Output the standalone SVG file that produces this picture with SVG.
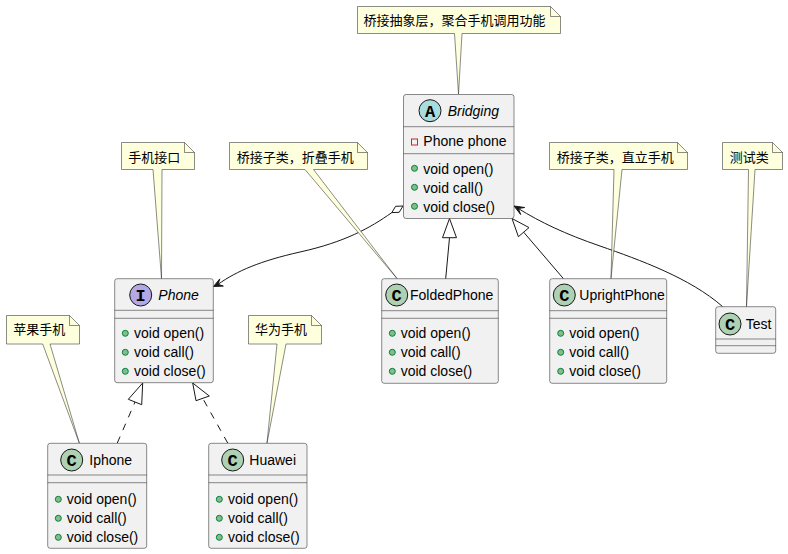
<svg xmlns="http://www.w3.org/2000/svg" width="788" height="554" viewBox="0 0 788 554">
<style>
.box{fill:#F1F1F1;stroke:#181818;stroke-width:0.5}
.sep{stroke:#181818;stroke-width:0.5}
.note{fill:#FEFFDD;stroke:#181818;stroke-width:0.5}
.fold{fill:none;stroke:#181818;stroke-width:0.5}
.t{font-family:"Liberation Sans",Arial,sans-serif;font-size:14px;fill:#000}
.ti{font-family:"Liberation Sans",Arial,sans-serif;font-size:14px;font-style:italic;fill:#000}
.n{font-family:"Noto Sans CJK SC","Liberation Sans",sans-serif;font-size:13px;fill:#000}
.sym{font-family:"Liberation Mono","DejaVu Sans Mono",monospace;font-size:17px;font-weight:bold;fill:#000;text-anchor:middle}
.ca{fill:#A9DCDF;stroke:#181818;stroke-width:1}
.ci{fill:#B4A7E5;stroke:#181818;stroke-width:1}
.cc{fill:#ADD1B2;stroke:#181818;stroke-width:1}
.pub{fill:#84BE84;stroke:#038048;stroke-width:1}
.priv{fill:none;stroke:#C82930;stroke-width:1}
.e{fill:none;stroke:#181818;stroke-width:1}
.d{fill:none;stroke:#181818;stroke-width:1;stroke-dasharray:7,7}
.h{fill:#181818;stroke:#181818;stroke-width:1}
.o{fill:#FFFFFF;stroke:#181818;stroke-width:1}
</style>

<g id="connectors">
  <!-- Bridging o-> Phone -->
  <path class="e" d="M391.8,212.6 C370,228 345,242 300,252 C260,261 237,271 218,284.3"/>
  <polygon class="o" points="403,206 395.6,206.3 391.8,212.6 399.2,212.3"/>
  <polygon class="h" points="213.5,286.5 219.8,278.9 218,284.3 223.3,286.1"/>
  <!-- FoldedPhone -|> Bridging -->
  <line class="e" x1="445.7" y1="278.7" x2="449.5" y2="237.7"/>
  <polygon class="o" points="449.5,218.5 442.5,237.7 456.5,237.7"/>
  <!-- UprightPhone -|> Bridging -->
  <line class="e" x1="563.3" y1="278.5" x2="523.7" y2="232.2"/>
  <polygon class="o" points="512,218.5 518.4,236.7 529,227.6"/>
  <!-- Test -> Bridging -->
  <path class="e" d="M722.5,306.5 C690,278 640,260 600,246 C565,234 540,222 518.3,208.5"/>
  <polygon class="h" points="514,206 520.7,214.5 518.3,208.5 524.7,207.5"/>
  <!-- Iphone ..|> Phone -->
  <line class="d" x1="117.3" y1="443" x2="135" y2="402"/>
  <polygon class="o" points="142.7,383 128.3,399.3 141.7,404.7"/>
  <!-- Huawei ..|> Phone -->
  <line class="d" x1="227.7" y1="443" x2="202.7" y2="398.3"/>
  <polygon class="o" points="192.7,383 196,400.7 209.3,396"/>
</g>

<g id="note-bridging">
  <path class="note" d="M357.5,6.5 L550.5,6.5 L560.5,16.5 L560.5,33.5 L462,33.5 L458.5,94 L454.5,33.5 L357.5,33.5 Z"/>
  <path class="fold" d="M550.5,6.5 L550.5,16.5 L560.5,16.5"/>
  <text class="n" x="363.5" y="25">桥接抽象层，聚合手机调用功能</text>
</g>

<g id="note-phone">
  <path class="note" d="M121.5,142.5 L184.5,142.5 L194.5,152.5 L194.5,169.5 L162,169.5 L161.5,278.5 L153,169.5 L121.5,169.5 Z"/>
  <path class="fold" d="M184.5,142.5 L184.5,152.5 L194.5,152.5"/>
  <text class="n" x="128.3" y="161.5">手机接口</text>
</g>

<g id="note-folded">
  <path class="note" d="M229.5,142.5 L357.5,142.5 L367.5,152.5 L367.5,169.5 L313.5,169.5 L397,278.5 L305,169.5 L229.5,169.5 Z"/>
  <path class="fold" d="M357.5,142.5 L357.5,152.5 L367.5,152.5"/>
  <text class="n" x="236.7" y="161.5">桥接子类，折叠手机</text>
</g>

<g id="note-upright">
  <path class="note" d="M549.5,142.5 L677.5,142.5 L687.5,152.5 L687.5,169.5 L622,169.5 L611,278.5 L614,169.5 L549.5,169.5 Z"/>
  <path class="fold" d="M677.5,142.5 L677.5,152.5 L687.5,152.5"/>
  <text class="n" x="556.7" y="161.5">桥接子类，直立手机</text>
</g>

<g id="note-test">
  <path class="note" d="M722.5,142.5 L772.5,142.5 L782.5,152.5 L782.5,169.5 L755,169.5 L746.5,306.5 L748.5,169.5 L722.5,169.5 Z"/>
  <path class="fold" d="M772.5,142.5 L772.5,152.5 L782.5,152.5"/>
  <text class="n" x="729.8" y="161.5">测试类</text>
</g>

<g id="note-iphone">
  <path class="note" d="M6.5,315.5 L69.5,315.5 L79.5,325.5 L79.5,344 L50,344 L79.3,443 L42.7,344 L6.5,344 Z"/>
  <path class="fold" d="M69.5,315.5 L69.5,325.5 L79.5,325.5"/>
  <text class="n" x="13.3" y="334">苹果手机</text>
</g>

<g id="note-huawei">
  <path class="note" d="M248.5,315.5 L311.5,315.5 L321.5,325.5 L321.5,344 L286,344 L267,443 L277,344 L248.5,344 Z"/>
  <path class="fold" d="M311.5,315.5 L311.5,325.5 L321.5,325.5"/>
  <text class="n" x="255" y="334">华为手机</text>
</g>

<g id="Bridging">
  <rect class="box" x="403.5" y="94.5" width="110.5" height="124" rx="2.5"/>
  <line class="sep" x1="403.5" y1="126.7" x2="514" y2="126.7"/>
  <line class="sep" x1="403.5" y1="153.7" x2="514" y2="153.7"/>
  <circle class="ca" cx="430" cy="110.7" r="11"/>
  <text class="sym" x="430" y="116.5">A</text>
  <text class="ti" x="447.7" y="115.5">Bridging</text>
  <rect class="priv" x="411.5" y="139" width="6" height="6"/>
  <text class="t" x="423.3" y="146">Phone phone</text>
  <circle class="pub" cx="414.5" cy="168.3" r="3"/>
  <text class="t" x="423.3" y="173.5">void open()</text>
  <circle class="pub" cx="414.5" cy="187.3" r="3"/>
  <text class="t" x="423.3" y="192.5">void call()</text>
  <circle class="pub" cx="414.5" cy="206.3" r="3"/>
  <text class="t" x="423.3" y="211.5">void close()</text>
</g>

<g id="Phone">
  <rect class="box" x="114.7" y="278.7" width="98.6" height="104" rx="2.5"/>
  <line class="sep" x1="114.7" y1="310.3" x2="213.3" y2="310.3"/>
  <line class="sep" x1="114.7" y1="318.3" x2="213.3" y2="318.3"/>
  <circle class="ci" cx="140.7" cy="295" r="11"/>
  <text class="sym" x="140.7" y="300.8">I</text>
  <text class="ti" x="158.3" y="299.8">Phone</text>
  <circle class="pub" cx="125.3" cy="333.3" r="3"/>
  <text class="t" x="134" y="338">void open()</text>
  <circle class="pub" cx="125.3" cy="352.3" r="3"/>
  <text class="t" x="134" y="357">void call()</text>
  <circle class="pub" cx="125.3" cy="371.3" r="3"/>
  <text class="t" x="134" y="376">void close()</text>
</g>

<g id="FoldedPhone">
  <rect class="box" x="381.7" y="278.7" width="116.6" height="104.6" rx="2.5"/>
  <line class="sep" x1="381.7" y1="310.7" x2="498.3" y2="310.7"/>
  <line class="sep" x1="381.7" y1="318.3" x2="498.3" y2="318.3"/>
  <circle class="cc" cx="396.7" cy="295" r="11"/>
  <text class="sym" x="396.7" y="300.8">C</text>
  <text class="t" x="410" y="300">FoldedPhone</text>
  <circle class="pub" cx="392.3" cy="333.3" r="3"/>
  <text class="t" x="400.7" y="338">void open()</text>
  <circle class="pub" cx="392.3" cy="352.3" r="3"/>
  <text class="t" x="400.7" y="357">void call()</text>
  <circle class="pub" cx="392.3" cy="371.3" r="3"/>
  <text class="t" x="400.7" y="376">void close()</text>
</g>

<g id="UprightPhone">
  <rect class="box" x="549.7" y="278.7" width="117" height="104.6" rx="2.5"/>
  <line class="sep" x1="549.7" y1="310.7" x2="666.7" y2="310.7"/>
  <line class="sep" x1="549.7" y1="318.3" x2="666.7" y2="318.3"/>
  <circle class="cc" cx="564.3" cy="295" r="11"/>
  <text class="sym" x="564.3" y="300.8">C</text>
  <text class="t" x="579.3" y="300">UprightPhone</text>
  <circle class="pub" cx="560.7" cy="333.3" r="3"/>
  <text class="t" x="569.3" y="338">void open()</text>
  <circle class="pub" cx="560.7" cy="352.3" r="3"/>
  <text class="t" x="569.3" y="357">void call()</text>
  <circle class="pub" cx="560.7" cy="371.3" r="3"/>
  <text class="t" x="569.3" y="376">void close()</text>
</g>

<g id="Test">
  <rect class="box" x="715.7" y="306.7" width="60" height="46.6" rx="2.5"/>
  <line class="sep" x1="715.7" y1="339" x2="775.7" y2="339"/>
  <line class="sep" x1="715.7" y1="345.7" x2="775.7" y2="345.7"/>
  <circle class="cc" cx="730" cy="324" r="11"/>
  <text class="sym" x="730" y="329.8">C</text>
  <text class="t" x="745.7" y="328.8">Test</text>
</g>

<g id="Iphone">
  <rect class="box" x="47.7" y="443.3" width="99" height="105" rx="2.5"/>
  <line class="sep" x1="47.7" y1="475" x2="146.7" y2="475"/>
  <line class="sep" x1="47.7" y1="482.7" x2="146.7" y2="482.7"/>
  <circle class="cc" cx="71.7" cy="460" r="11"/>
  <text class="sym" x="71.7" y="465.8">C</text>
  <text class="t" x="89.3" y="465">Iphone</text>
  <circle class="pub" cx="58.3" cy="499.3" r="3"/>
  <text class="t" x="66.7" y="504">void open()</text>
  <circle class="pub" cx="58.3" cy="518.3" r="3"/>
  <text class="t" x="66.7" y="523">void call()</text>
  <circle class="pub" cx="58.3" cy="537.3" r="3"/>
  <text class="t" x="66.7" y="542">void close()</text>
</g>

<g id="Huawei">
  <rect class="box" x="208.7" y="443.3" width="98.3" height="105" rx="2.5"/>
  <line class="sep" x1="208.7" y1="475" x2="307" y2="475"/>
  <line class="sep" x1="208.7" y1="482.7" x2="307" y2="482.7"/>
  <circle class="cc" cx="232.7" cy="460" r="11"/>
  <text class="sym" x="232.7" y="465.8">C</text>
  <text class="t" x="249.3" y="465">Huawei</text>
  <circle class="pub" cx="219.3" cy="499.3" r="3"/>
  <text class="t" x="228" y="504">void open()</text>
  <circle class="pub" cx="219.3" cy="518.3" r="3"/>
  <text class="t" x="228" y="523">void call()</text>
  <circle class="pub" cx="219.3" cy="537.3" r="3"/>
  <text class="t" x="228" y="542">void close()</text>
</g>
</svg>
